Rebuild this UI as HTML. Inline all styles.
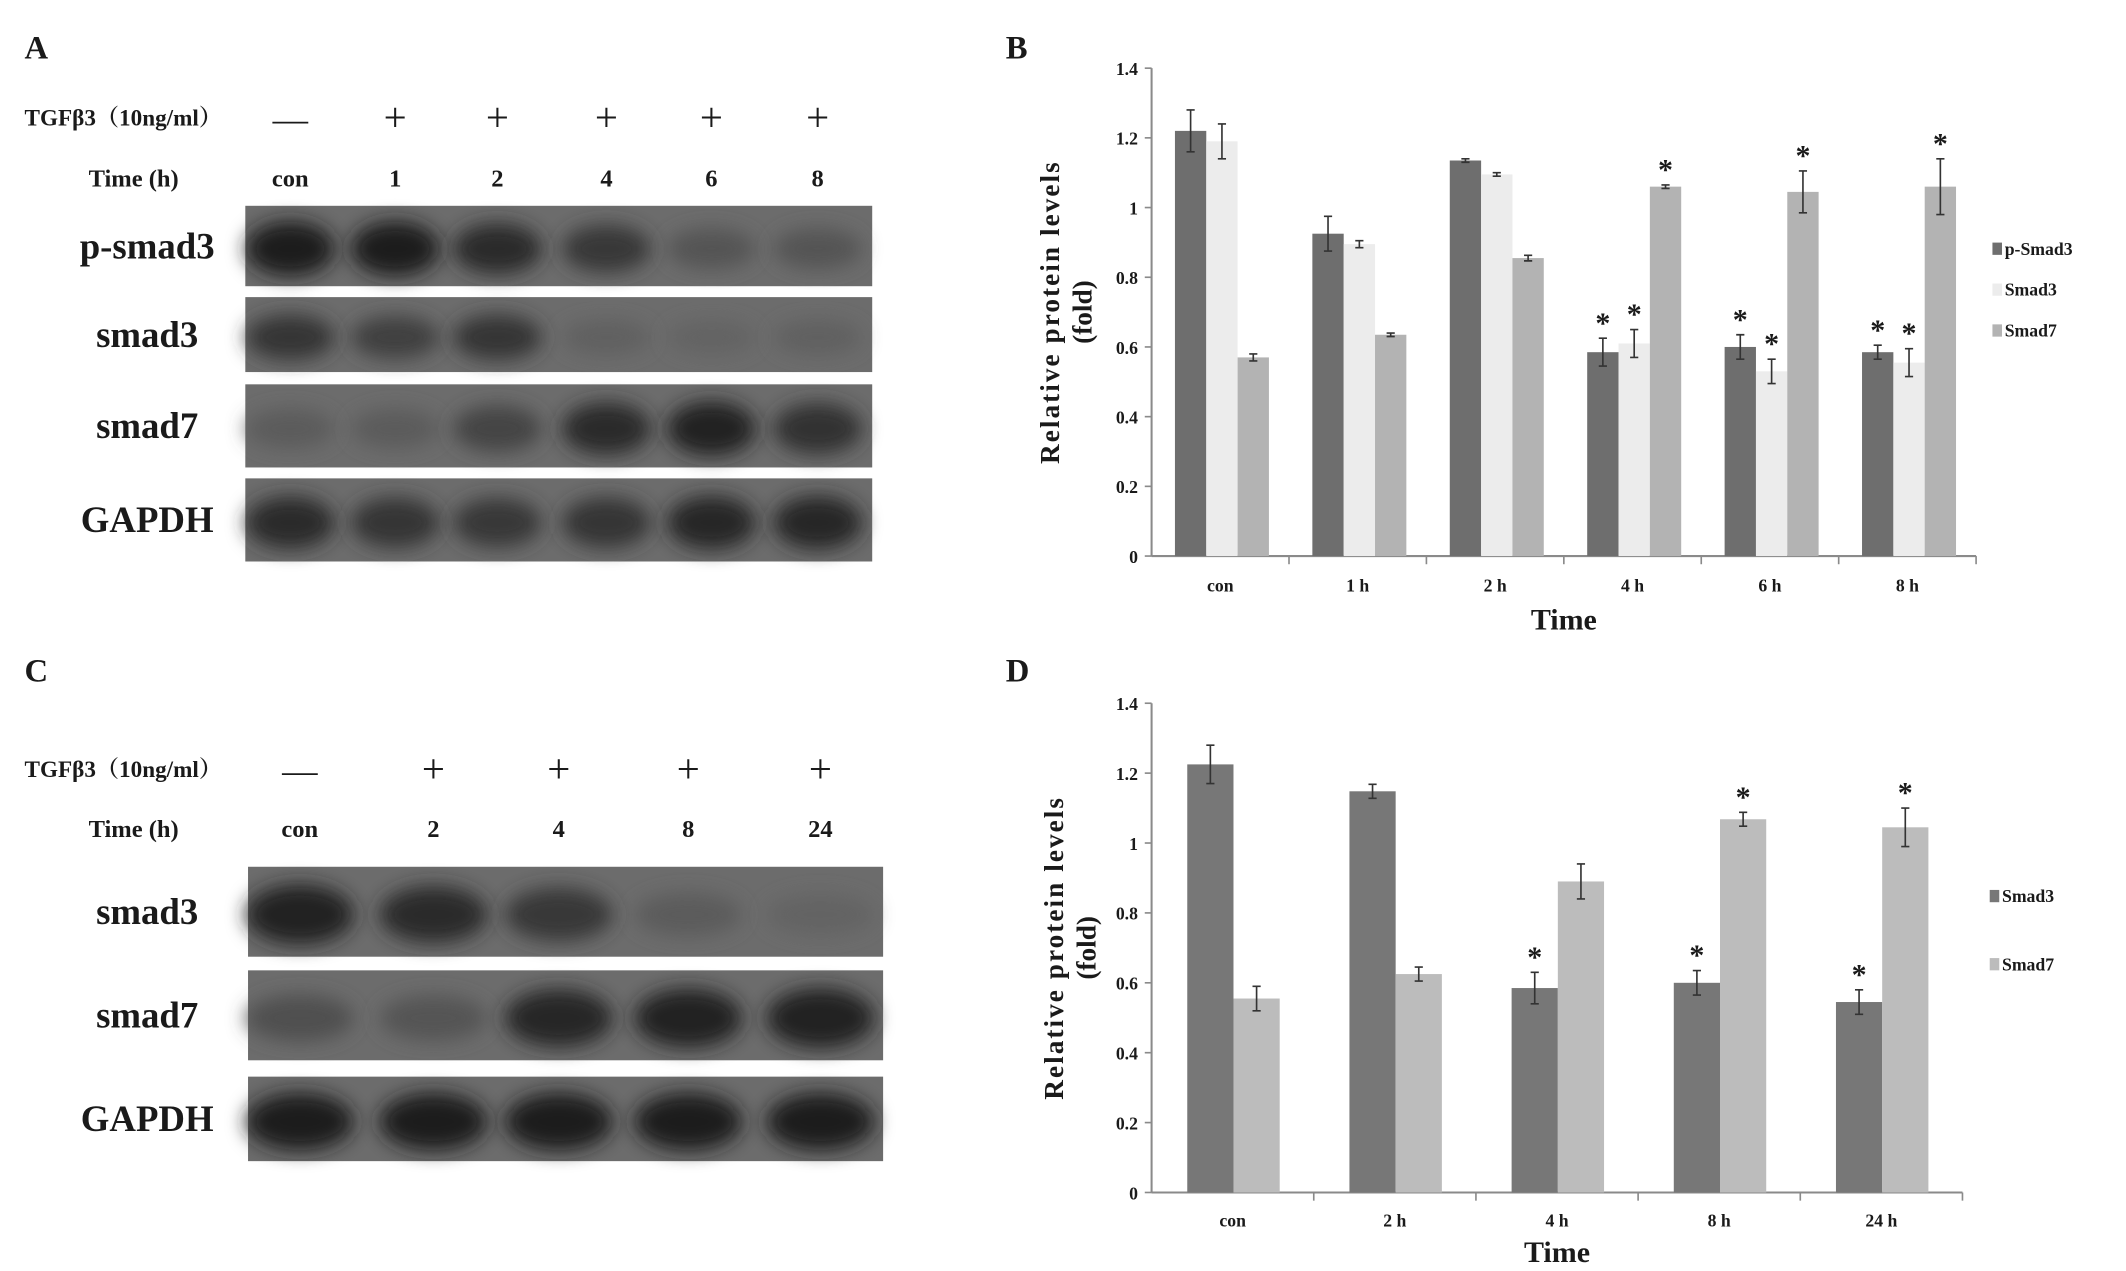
<!DOCTYPE html>
<html><head><meta charset="utf-8"><style>
html,body{margin:0;padding:0;background:#fff;width:2126px;height:1271px;overflow:hidden}
svg{display:block}
text{font-family:"Liberation Serif","Noto Serif CJK SC",serif;font-weight:bold;fill:#1a1a1a}
</style></head><body>
<svg id="fig" width="2126" height="1271" viewBox="0 0 1560 932.6" xmlns="http://www.w3.org/2000/svg">
<defs>
<filter id="blur" x="-50%" y="-50%" width="200%" height="200%"><feGaussianBlur stdDeviation="7"/></filter>
</defs>
<g id="panelA"></g>
<g id="panelC"></g>
<g id="panelB"></g>
<g id="panelD"></g>
</svg>
<script>
// ---- Chart B data ----
const catsB = ["con","1 h","2 h","4 h","6 h","8 h"];
const seriesBNames = ["p-Smad3","Smad3","Smad7"];
const pSmad3B = [1.22,0.925,1.135,0.585,0.60,0.585];
const pSmad3BErr = [0.06,0.05,0.005,0.04,0.035,0.02];
const smad3B = [1.19,0.895,1.095,0.61,0.53,0.555];
const smad3BErr = [0.05,0.01,0.005,0.04,0.035,0.04];
const smad7B = [0.57,0.635,0.855,1.06,1.045,1.06];
const smad7BErr = [0.01,0.005,0.008,0.005,0.06,0.08];
const starsB = [[0,0,0,1,1,1],[0,0,0,1,1,1],[0,0,0,1,1,1]];
// ---- Chart D data ----
const catsD = ["con","2 h","4 h","8 h","24 h"];
const seriesDNames = ["Smad3","Smad7"];
const smad3D = [1.225,1.148,0.585,0.60,0.545];
const smad3DErr = [0.055,0.02,0.045,0.035,0.035];
const smad7D = [0.555,0.625,0.89,1.068,1.045];
const smad7DErr = [0.035,0.02,0.05,0.02,0.055];
const starsD = [[0,0,1,1,1],[0,0,0,1,1]];
const yTicks = ["0","0.2","0.4","0.6","0.8","1","1.2","1.4"];
// ---- Blot data (band intensity 0..1) ----
const lanesA = ["con","1","2","4","6","8"];
const treatA = ["—","+","+","+","+","+"];
const blotA = {"p-smad3":[1,1,0.8,0.65,0.3,0.3],"smad3":[0.7,0.55,0.7,0.15,0.1,0.15],"smad7":[0.2,0.2,0.5,0.8,0.9,0.75],"GAPDH":[0.8,0.7,0.65,0.7,0.85,0.85]};
const lanesC = ["con","2","4","8","24"];
const treatC = ["—","+","+","+","+"];
const blotC = {"smad3":[0.95,0.8,0.65,0.2,0.1],"smad7":[0.35,0.3,0.85,0.9,0.95],"GAPDH":[1,1,1,1,1]};

const NS="http://www.w3.org/2000/svg";
function mk(tag,attrs,parent,txt){const e=document.createElementNS(NS,tag);for(const k in attrs)e.setAttribute(k,attrs[k]);if(txt!==undefined)e.textContent=txt;parent.appendChild(e);return e;}

function blotPanel(g,letter,ly,lanes,treat,blot,lx,rowY,boxX0,boxX1,boxes,labelSizes,labelX){
  const t=mk("text",{x:18,y:ly,"font-size":24},g,letter);
  
  
  const tg=mk("text",{x:18,y:rowY[0],"font-size":17},g,"TGFβ3（10ng/ml）");
  
  
  const th=mk("text",{x:65,y:rowY[1],"font-size":18},g,"Time (h)");
  
  
  lanes.forEach((ln,i)=>{
    const s=mk("text",{x:lx[i],y:rowY[0]+4,"font-size":treat[i]==="+"?30:26,"text-anchor":"middle",style:"font-weight:normal"},g,treat[i]);
    
    
    const l=mk("text",{x:lx[i],y:rowY[1],"font-size":18,"text-anchor":"middle"},g,ln);
    
    
  });
  const names=Object.keys(blot);
  names.forEach((nm,r)=>{
    const [y0,y1]=boxes[r];
    const bg=mk("g",{},g);
    
    
    mk("rect",{x:boxX0,y:y0,width:boxX1-boxX0,height:y1-y0,fill:"#6c6c6c"},bg);
    const bandW=(boxX1-boxX0)/lanes.length*0.85;
    blot[nm].forEach((v,i)=>{
      const c=Math.round(108-v*80);
      const e=mk("ellipse",{cx:lx[i],cy:(y0+y1)/2+2,rx:bandW/2,ry:(y1-y0)*(0.22+0.12*v),fill:`rgb(${c},${c},${c})`,filter:"url(#blur)"},bg);
      
      
    });
    const lb=mk("text",{x:labelX,y:(y0+y1)/2+9,"font-size":labelSizes,"text-anchor":"middle"},g,nm);
    
    
  });
}
blotPanel(document.getElementById("panelA"),"A",43,lanesA,treatA,blotA,[213,290,365,445,522,600],[92,137],180,640,[[151,210],[218,273],[282,343],[351,412]],27,108);
blotPanel(document.getElementById("panelC"),"C",500,lanesC,treatC,blotC,[220,318,410,505,602],[570,614],182,648,[[636,702],[712,778],[790,852]],27,108);

function barChart(g,letter,ly,cats,series,errs,stars,names,colors,x0,x1,yTop,y0,barFrac,startFrac,legX,legY,titleX,timeY,tickLabelY){
  const L=mk("text",{x:738,y:ly,"font-size":24},g,letter);
  
  
  const ys=v=>y0-(v/1.4)*(y0-yTop);
  const gw=(x1-x0)/cats.length;
  const ya=mk("line",{x1:x0,y1:yTop,x2:x0,y2:y0,stroke:"#8a8a8a","stroke-width":1.5},g);
   
  const xa=mk("line",{x1:x0,y1:y0,x2:x1,y2:y0,stroke:"#8a8a8a","stroke-width":1.5},g);
   
  yTicks.forEach(tk=>{
    const v=parseFloat(tk),y=ys(v);
    mk("line",{x1:x0-5,y1:y,x2:x0,y2:y,stroke:"#8a8a8a","stroke-width":1.2},g);
    const t=mk("text",{x:x0-10,y:y+5,"font-size":13,"text-anchor":"end"},g,tk);
     
  });
  cats.forEach((c,i)=>{
    mk("line",{x1:x0+gw*(i+1),y1:y0,x2:x0+gw*(i+1),y2:y0+6,stroke:"#8a8a8a","stroke-width":1.2},g);
    const t=mk("text",{x:x0+gw*(i+0.5),y:tickLabelY,"font-size":13,"text-anchor":"middle"},g,c);
     
  });
  const bw=gw*barFrac;
  series.forEach((vals,s)=>{
    vals.forEach((v,i)=>{
      const bx=x0+gw*i+gw*startFrac+bw*s;
      const r=mk("rect",{x:bx,y:ys(v),width:bw,height:y0-ys(v),fill:colors[s]},g);
      
      
      const cx=bx+bw/2,e=errs[s][i];
      const eb=mk("path",{d:`M${cx},${ys(v+e)}V${ys(v-e)}M${cx-3},${ys(v+e)}h6M${cx-3},${ys(v-e)}h6`,stroke:"#333","stroke-width":1.2,fill:"none"},g);
       
      if(stars[s][i]){
        const st=mk("text",{x:cx,y:ys(v+e)-4,"font-size":22,"text-anchor":"middle",fill:"#333"},g,"*");
         
      }
    });
  });
  names.forEach((n,s)=>{
    const r=mk("rect",{x:legX,y:legY[s]-9,width:7,height:9,fill:colors[s]},g);
     
    const t=mk("text",{x:legX+9,y:legY[s],"font-size":13},g,n);
     
  });
  const cy=(yTop+y0)/2;
  const t1=mk("text",{x:0,y:0,"font-size":20,"text-anchor":"middle",transform:`translate(${titleX},${cy}) rotate(-90)`,"letter-spacing":"1.5"},g,"Relative  protein  levels");
   
  const t2=mk("text",{x:0,y:0,"font-size":20,"text-anchor":"middle",transform:`translate(${titleX+24},${cy}) rotate(-90)`},g,"(fold)");
   
  const tt=mk("text",{x:x0+(x1-x0)/2,y:timeY,"font-size":22,"text-anchor":"middle"},g,"Time");
   
}
barChart(document.getElementById("panelB"),"B",43,catsB,[pSmad3B,smad3B,smad7B],[pSmad3BErr,smad3BErr,smad7BErr],starsB,seriesBNames,["#6e6e6e","#ececec","#b3b3b3"],845,1450,50,408,0.228,0.17,1462,[187,217,247],777,462,434);
barChart(document.getElementById("panelD"),"D",500,catsD,[smad3D,smad7D],[smad3DErr,smad7DErr],starsD,seriesDNames,["#777777","#bcbcbc"],845,1440,516,875,0.285,0.22,1460,[662,712],780,926,900);
</script>
</body></html>
